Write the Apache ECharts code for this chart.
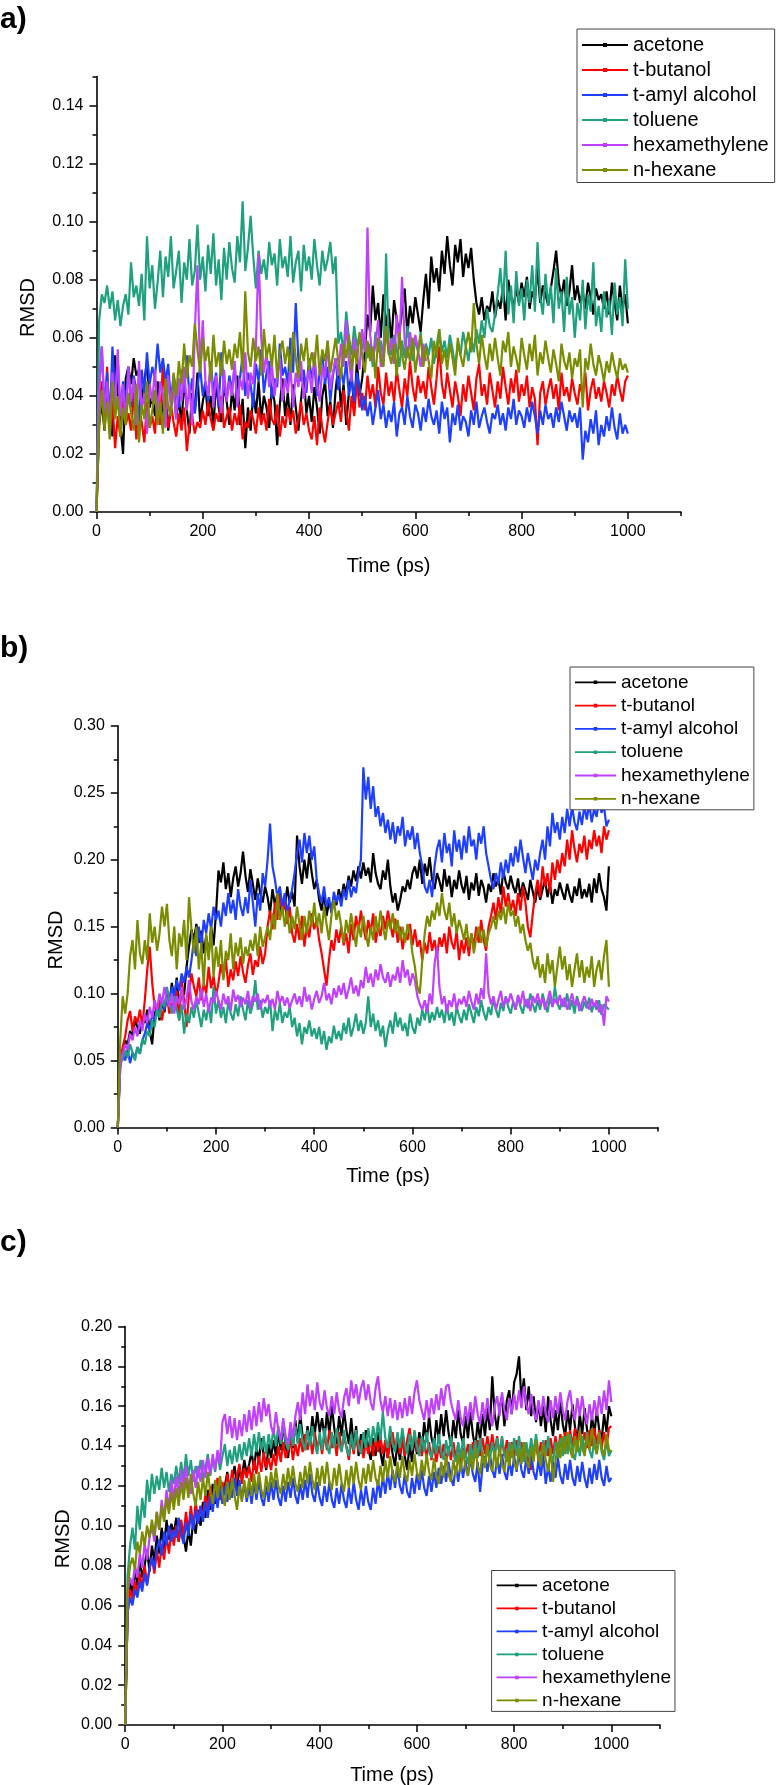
<!DOCTYPE html>
<html><head><meta charset="utf-8">
<script src="https://cdn.jsdelivr.net/npm/echarts@6/dist/echarts.min.js"></script>
<style>html,body{margin:0;padding:0;background:#fff}#c{width:776px;height:1785px}</style>
</head><body><div id="c"></div>
<script>
const names = ['acetone','t-butanol','t-amyl alcohol','toluene','hexamethylene','n-hexane'];
const colors = ['#000000','#ff0000','#1f3fff','#1fa07e','#bf40ff','#7b8c00'];
const times = [0,
5,10,15,20,25,30,35,40,45,50,55,60,65,70,75,80,85,90,95,100,
105,110,115,120,125,130,135,140,145,150,155,160,165,170,175,180,185,190,195,200,
205,210,215,220,225,230,235,240,245,250,255,260,265,270,275,280,285,290,295,300,
305,310,315,320,325,330,335,340,345,350,355,360,365,370,375,380,385,390,395,400,
405,410,415,420,425,430,435,440,445,450,455,460,465,470,475,480,485,490,495,500,
505,510,515,520,525,530,535,540,545,550,555,560,565,570,575,580,585,590,595,600,
605,610,615,620,625,630,635,640,645,650,655,660,665,670,675,680,685,690,695,700,
705,710,715,720,725,730,735,740,745,750,755,760,765,770,775,780,785,790,795,800,
805,810,815,820,825,830,835,840,845,850,855,860,865,870,875,880,885,890,895,900,
905,910,915,920,925,930,935,940,945,950,955,960,965,970,975,980,985,990,995,1000];
const xTicks = [0,200,400,600,800,1000];
const xMinor = [100,300,500,700,900,1100];
const yTicksA = [0,0.02,0.04,0.06,0.08,0.10,0.12,0.14];
const yMinorA = [0.01,0.03,0.05,0.07,0.09,0.11,0.13,0.15];
const yTicksB = [0,0.05,0.10,0.15,0.20,0.25,0.30];
const yMinorB = [0.025,0.075,0.125,0.175,0.225,0.275];
const yTicksC = [0,0.02,0.04,0.06,0.08,0.10,0.12,0.14,0.16,0.18,0.20];
const yMinorC = [0.01,0.03,0.05,0.07,0.09,0.11,0.13,0.15,0.17,0.19];

// ---------- panel a ----------
const acetoneA = [0,
0.030,0.038,0.028,0.042,0.035,0.026,0.054,0.040,0.030,0.020,
0.046,0.050,0.044,0.053,0.047,0.049,0.038,0.045,0.052,0.036,
0.040,0.033,0.045,0.030,0.038,0.042,0.028,0.036,0.044,0.032,
0.039,0.030,0.046,0.035,0.027,0.041,0.034,0.048,0.031,0.038,
0.043,0.033,0.040,0.029,0.045,0.036,0.031,0.044,0.038,0.030,
0.042,0.035,0.047,0.030,0.039,0.022,0.036,0.028,0.041,0.034,
0.045,0.032,0.040,0.036,0.029,0.043,0.038,0.023,0.037,0.046,
0.033,0.041,0.030,0.044,0.036,0.028,0.039,0.047,0.034,0.040,
0.031,0.043,0.036,0.027,0.040,0.045,0.033,0.038,0.029,0.042,
0.050,0.036,0.044,0.030,0.041,0.048,0.035,0.052,0.040,0.046,
0.055,0.068,0.062,0.078,0.066,0.072,0.060,0.075,0.064,0.070,
0.058,0.073,0.066,0.062,0.069,0.077,0.061,0.071,0.065,0.074,
0.068,0.062,0.073,0.082,0.070,0.088,0.079,0.084,0.076,0.090,
0.082,0.095,0.085,0.078,0.092,0.086,0.094,0.081,0.089,0.084,
0.091,0.080,0.072,0.068,0.074,0.066,0.071,0.069,0.076,0.067,
0.073,0.070,0.078,0.066,0.080,0.074,0.071,0.077,0.072,0.079,
0.074,0.081,0.070,0.076,0.073,0.084,0.072,0.078,0.075,0.071,
0.077,0.083,0.090,0.079,0.074,0.080,0.071,0.076,0.085,0.073,
0.078,0.072,0.076,0.070,0.079,0.074,0.068,0.077,0.073,0.075,
0.070,0.076,0.068,0.079,0.072,0.066,0.078,0.070,0.075,0.065];
const tbutanolA = [0,
0.032,0.045,0.030,0.050,0.027,0.038,0.022,0.033,0.026,0.040,
0.030,0.034,0.028,0.042,0.025,0.036,0.031,0.024,0.038,0.029,
0.033,0.027,0.040,0.030,0.052,0.035,0.029,0.037,0.031,0.026,
0.034,0.028,0.036,0.021,0.030,0.033,0.027,0.031,0.029,0.035,
0.030,0.038,0.032,0.028,0.034,0.031,0.040,0.029,0.033,0.036,
0.028,0.034,0.030,0.037,0.025,0.031,0.029,0.035,0.032,0.027,
0.036,0.030,0.034,0.028,0.039,0.032,0.030,0.037,0.026,0.033,
0.029,0.036,0.031,0.035,0.027,0.032,0.038,0.030,0.034,0.028,
0.025,0.033,0.023,0.036,0.029,0.024,0.031,0.037,0.030,0.034,
0.038,0.031,0.042,0.035,0.028,0.040,0.033,0.045,0.036,0.041,
0.035,0.047,0.039,0.044,0.036,0.050,0.041,0.037,0.048,0.040,
0.045,0.038,0.049,0.042,0.036,0.046,0.040,0.052,0.043,0.038,
0.047,0.041,0.045,0.039,0.050,0.043,0.037,0.046,0.057,0.044,
0.039,0.048,0.042,0.036,0.045,0.040,0.033,0.044,0.038,0.047,
0.041,0.035,0.046,0.051,0.040,0.044,0.037,0.048,0.042,0.036,
0.045,0.039,0.050,0.043,0.037,0.046,0.041,0.049,0.038,0.044,
0.040,0.047,0.036,0.043,0.039,0.023,0.041,0.045,0.037,0.042,
0.046,0.039,0.044,0.035,0.048,0.040,0.043,0.038,0.046,0.041,
0.037,0.044,0.040,0.048,0.035,0.042,0.046,0.039,0.043,0.038,
0.045,0.041,0.036,0.044,0.040,0.047,0.042,0.038,0.045,0.047];
const tamylA = [0,
0.043,0.057,0.035,0.048,0.031,0.057,0.040,0.052,0.034,0.045,
0.038,0.050,0.036,0.047,0.042,0.030,0.049,0.041,0.055,0.044,
0.050,0.046,0.058,0.048,0.053,0.045,0.051,0.038,0.047,0.042,
0.036,0.049,0.041,0.054,0.039,0.046,0.034,0.043,0.050,0.040,
0.045,0.038,0.052,0.041,0.048,0.036,0.055,0.043,0.039,0.047,
0.042,0.050,0.038,0.046,0.054,0.040,0.048,0.044,0.036,0.051,
0.045,0.056,0.041,0.048,0.052,0.039,0.046,0.043,0.058,0.047,
0.050,0.044,0.060,0.048,0.072,0.052,0.045,0.049,0.041,0.053,
0.046,0.051,0.040,0.048,0.055,0.044,0.050,0.038,0.047,0.053,
0.042,0.049,0.044,0.052,0.040,0.046,0.038,0.048,0.043,0.035,
0.040,0.033,0.038,0.030,0.036,0.042,0.032,0.037,0.029,0.035,
0.031,0.038,0.026,0.034,0.036,0.030,0.040,0.033,0.029,0.037,
0.034,0.028,0.036,0.031,0.039,0.033,0.030,0.035,0.027,0.038,
0.032,0.036,0.024,0.034,0.030,0.037,0.028,0.033,0.031,0.026,
0.035,0.030,0.038,0.029,0.033,0.036,0.031,0.027,0.034,0.032,
0.037,0.030,0.034,0.028,0.036,0.032,0.039,0.030,0.035,0.033,
0.029,0.036,0.031,0.038,0.033,0.027,0.035,0.030,0.037,0.032,
0.034,0.029,0.036,0.031,0.038,0.033,0.028,0.035,0.031,0.034,
0.029,0.036,0.018,0.028,0.024,0.032,0.027,0.035,0.023,0.030,
0.026,0.033,0.028,0.036,0.029,0.025,0.034,0.027,0.030,0.027];
const tolueneA = [0,
0.066,0.075,0.072,0.078,0.070,0.076,0.066,0.073,0.064,0.071,
0.075,0.068,0.086,0.074,0.078,0.071,0.082,0.066,0.095,0.077,
0.085,0.070,0.079,0.090,0.074,0.088,0.081,0.095,0.077,0.083,
0.090,0.072,0.086,0.080,0.094,0.078,0.083,0.099,0.080,0.088,
0.076,0.092,0.082,0.096,0.078,0.087,0.073,0.091,0.080,0.093,
0.084,0.079,0.095,0.086,0.107,0.083,0.091,0.102,0.088,0.077,
0.090,0.082,0.087,0.080,0.093,0.085,0.089,0.078,0.094,0.084,
0.088,0.081,0.095,0.079,0.086,0.090,0.076,0.092,0.083,0.088,
0.080,0.094,0.085,0.078,0.090,0.083,0.087,0.093,0.082,0.088,
0.058,0.062,0.055,0.069,0.060,0.054,0.064,0.057,0.061,0.056,
0.060,0.053,0.058,0.050,0.062,0.055,0.059,0.052,0.089,0.057,
0.054,0.061,0.056,0.050,0.059,0.053,0.064,0.057,0.052,0.060,
0.055,0.062,0.052,0.058,0.054,0.060,0.051,0.057,0.063,0.055,
0.059,0.053,0.061,0.056,0.050,0.058,0.054,0.062,0.057,0.052,
0.060,0.055,0.063,0.058,0.066,0.060,0.070,0.064,0.062,0.068,
0.075,0.084,0.072,0.090,0.068,0.078,0.065,0.083,0.071,0.077,
0.066,0.080,0.072,0.085,0.069,0.093,0.074,0.068,0.082,0.071,
0.078,0.065,0.084,0.070,0.076,0.062,0.081,0.068,0.074,0.060,
0.072,0.066,0.080,0.063,0.075,0.069,0.086,0.064,0.071,0.062,
0.076,0.067,0.073,0.061,0.079,0.068,0.074,0.064,0.087,0.070];
const hexaA = [0,
0.042,0.057,0.034,0.045,0.030,0.048,0.036,0.056,0.033,0.044,
0.031,0.050,0.038,0.046,0.030,0.052,0.035,0.041,0.027,0.044,
0.038,0.049,0.033,0.045,0.040,0.029,0.047,0.036,0.043,0.032,
0.046,0.038,0.050,0.035,0.044,0.030,0.062,0.085,0.048,0.066,
0.045,0.040,0.052,0.036,0.047,0.041,0.034,0.049,0.038,0.045,
0.040,0.052,0.036,0.046,0.042,0.055,0.039,0.048,0.044,0.057,
0.089,0.060,0.048,0.055,0.043,0.051,0.040,0.047,0.053,0.038,
0.046,0.041,0.050,0.036,0.048,0.043,0.052,0.039,0.045,0.049,
0.041,0.055,0.044,0.038,0.050,0.046,0.059,0.042,0.048,0.053,
0.047,0.058,0.050,0.066,0.052,0.045,0.060,0.054,0.049,0.063,
0.055,0.098,0.061,0.052,0.058,0.066,0.050,0.057,0.063,0.054,
0.060,0.051,0.068,0.056,0.081,0.059,0.053,0.062,0.055,0.061,
0.056,0.050,0.058,0.052];
const hexaneA = [0,
0.030,0.042,0.028,0.038,0.025,0.045,0.032,0.040,0.026,0.036,
0.030,0.041,0.034,0.028,0.044,0.024,0.037,0.032,0.045,0.029,
0.035,0.042,0.030,0.038,0.027,0.046,0.036,0.033,0.048,0.040,
0.052,0.044,0.058,0.046,0.054,0.050,0.065,0.056,0.048,0.060,
0.052,0.057,0.045,0.061,0.050,0.055,0.047,0.059,0.051,0.056,
0.049,0.058,0.053,0.062,0.048,0.076,0.055,0.050,0.060,0.052,
0.057,0.047,0.063,0.053,0.058,0.050,0.061,0.046,0.055,0.059,
0.051,0.057,0.048,0.062,0.053,0.046,0.058,0.052,0.060,0.049,
0.055,0.050,0.061,0.047,0.056,0.052,0.059,0.048,0.054,0.060,
0.052,0.046,0.058,0.053,0.061,0.049,0.056,0.051,0.062,0.054,
0.048,0.059,0.052,0.057,0.046,0.060,0.053,0.050,0.064,0.055,
0.051,0.058,0.047,0.062,0.054,0.049,0.057,0.052,0.060,0.048,
0.055,0.061,0.050,0.057,0.052,0.046,0.059,0.053,0.063,0.051,
0.056,0.049,0.058,0.053,0.047,0.060,0.054,0.050,0.057,0.062,
0.055,0.072,0.058,0.051,0.061,0.054,0.049,0.058,0.052,0.060,
0.053,0.047,0.059,0.055,0.062,0.050,0.057,0.053,0.048,0.060,
0.054,0.049,0.058,0.052,0.061,0.047,0.055,0.051,0.059,0.053,
0.048,0.056,0.051,0.045,0.058,0.052,0.049,0.055,0.046,0.053,
0.050,0.056,0.036,0.053,0.049,0.058,0.051,0.047,0.054,0.050,
0.045,0.052,0.048,0.055,0.050,0.046,0.053,0.049,0.051,0.048];

// ---------- panel b ----------
const acetoneB = [0,
0.052,0.058,0.065,0.062,0.072,0.068,0.080,0.075,0.070,0.082,
0.078,0.088,0.072,0.062,0.085,0.090,0.080,0.095,0.086,0.100,
0.092,0.108,0.096,0.112,0.088,0.104,0.099,0.120,0.135,0.148,
0.140,0.152,0.138,0.147,0.130,0.143,0.128,0.150,0.136,0.160,
0.192,0.183,0.198,0.178,0.190,0.172,0.186,0.195,0.180,0.190,
0.206,0.188,0.176,0.193,0.182,0.170,0.186,0.175,0.168,0.180,
0.172,0.160,0.178,0.166,0.175,0.158,0.170,0.163,0.180,0.168,
0.176,0.165,0.218,0.195,0.182,0.200,0.186,0.205,0.190,0.178,
0.185,0.170,0.162,0.175,0.158,0.168,0.163,0.172,0.166,0.178,
0.170,0.182,0.175,0.188,0.180,0.192,0.184,0.195,0.186,0.198,
0.188,0.194,0.183,0.205,0.190,0.182,0.178,0.192,0.185,0.200,
0.180,0.168,0.175,0.162,0.170,0.180,0.176,0.185,0.178,0.190,
0.195,0.186,0.200,0.182,0.197,0.188,0.202,0.185,0.178,0.190,
0.184,0.176,0.193,0.180,0.188,0.172,0.185,0.178,0.192,0.181,
0.175,0.188,0.170,0.183,0.177,0.190,0.173,0.185,0.179,0.168,
0.182,0.176,0.190,0.180,0.186,0.174,0.192,0.183,0.178,0.188,
0.180,0.175,0.186,0.172,0.183,0.177,0.170,0.185,0.176,0.168,
0.180,0.170,0.178,0.185,0.172,0.182,0.167,0.178,0.173,0.183,
0.176,0.170,0.182,0.174,0.168,0.180,0.173,0.186,0.171,0.178,
0.172,0.182,0.168,0.186,0.175,0.190,0.178,0.172,0.162,0.195];
const tbutanolB = [0,
0.050,0.060,0.068,0.080,0.087,0.072,0.083,0.078,0.088,0.076,
0.095,0.118,0.135,0.108,0.090,0.085,0.095,0.080,0.092,0.098,
0.085,0.093,0.088,0.102,0.080,0.110,0.095,0.075,0.100,0.115,
0.105,0.098,0.112,0.095,0.108,0.100,0.120,0.104,0.113,0.098,
0.108,0.122,0.112,0.126,0.105,0.118,0.110,0.124,0.113,0.128,
0.116,0.108,0.121,0.130,0.114,0.125,0.120,0.135,0.122,0.130,
0.150,0.162,0.148,0.168,0.155,0.175,0.160,0.170,0.152,0.165,
0.145,0.138,0.152,0.140,0.158,0.135,0.150,0.142,0.160,0.148,
0.155,0.140,0.130,0.118,0.106,0.125,0.140,0.132,0.148,0.138,
0.150,0.136,0.145,0.130,0.152,0.140,0.158,0.146,0.162,0.150,
0.140,0.155,0.145,0.160,0.138,0.150,0.143,0.158,0.148,0.162,
0.152,0.142,0.156,0.138,0.150,0.133,0.145,0.140,0.152,0.136,
0.148,0.135,0.140,0.125,0.138,0.130,0.146,0.132,0.140,0.128,
0.142,0.135,0.145,0.130,0.150,0.138,0.133,0.147,0.125,0.140,
0.130,0.142,0.128,0.145,0.135,0.150,0.138,0.155,0.140,0.132,
0.150,0.158,0.168,0.155,0.172,0.160,0.180,0.165,0.175,0.162,
0.170,0.158,0.175,0.162,0.180,0.168,0.150,0.142,0.160,0.175,
0.185,0.172,0.195,0.180,0.190,0.175,0.198,0.185,0.200,0.190,
0.205,0.195,0.215,0.200,0.222,0.208,0.198,0.212,0.205,0.218,
0.200,0.215,0.208,0.222,0.210,0.218,0.205,0.225,0.215,0.222];
const tamylB = [0,
0.045,0.055,0.050,0.058,0.048,0.056,0.052,0.060,0.055,0.065,
0.070,0.078,0.072,0.085,0.080,0.090,0.084,0.095,0.088,0.098,
0.092,0.105,0.098,0.110,0.102,0.115,0.108,0.120,0.112,0.125,
0.140,0.128,0.150,0.135,0.155,0.145,0.160,0.148,0.165,0.155,
0.162,0.150,0.168,0.158,0.175,0.160,0.170,0.155,0.178,0.165,
0.158,0.172,0.160,0.185,0.168,0.150,0.175,0.162,0.190,0.180,
0.200,0.227,0.195,0.185,0.172,0.180,0.165,0.175,0.160,0.170,
0.178,0.190,0.205,0.215,0.198,0.220,0.205,0.218,0.200,0.210,
0.185,0.175,0.168,0.180,0.165,0.172,0.160,0.176,0.168,0.174,
0.165,0.178,0.170,0.185,0.172,0.180,0.175,0.190,0.200,0.269,
0.245,0.262,0.238,0.255,0.232,0.240,0.225,0.235,0.220,0.230,
0.215,0.228,0.212,0.225,0.218,0.232,0.210,0.222,0.215,0.225,
0.208,0.220,0.205,0.195,0.180,0.175,0.185,0.172,0.195,0.208,
0.215,0.198,0.220,0.205,0.212,0.195,0.222,0.206,0.215,0.200,
0.218,0.205,0.225,0.210,0.215,0.200,0.220,0.212,0.225,0.205,
0.195,0.185,0.178,0.190,0.182,0.198,0.186,0.200,0.190,0.205,
0.195,0.210,0.198,0.215,0.202,0.190,0.205,0.195,0.185,0.200,
0.192,0.205,0.215,0.200,0.225,0.210,0.235,0.220,0.228,0.215,
0.232,0.220,0.238,0.225,0.240,0.228,0.222,0.236,0.226,0.240,
0.230,0.242,0.228,0.238,0.232,0.245,0.235,0.240,0.225,0.230];
const tolueneB = [0,
0.055,0.050,0.058,0.052,0.062,0.056,0.050,0.060,0.055,0.066,
0.062,0.072,0.068,0.080,0.075,0.088,0.082,0.095,0.090,0.105,
0.095,0.085,0.098,0.088,0.080,0.092,0.070,0.085,0.078,0.090,
0.082,0.095,0.085,0.075,0.088,0.080,0.092,0.078,0.105,0.085,
0.095,0.082,0.090,0.078,0.094,0.085,0.080,0.092,0.083,0.098,
0.088,0.080,0.095,0.085,0.092,0.110,0.088,0.095,0.082,0.090,
0.085,0.095,0.072,0.088,0.080,0.093,0.078,0.086,0.082,0.090,
0.075,0.082,0.068,0.078,0.062,0.075,0.070,0.080,0.068,0.074,
0.066,0.075,0.062,0.072,0.058,0.068,0.063,0.076,0.066,0.072,
0.065,0.078,0.070,0.082,0.068,0.075,0.085,0.072,0.080,0.070,
0.078,0.098,0.075,0.085,0.072,0.080,0.068,0.076,0.060,0.072,
0.080,0.070,0.086,0.075,0.082,0.072,0.078,0.068,0.085,0.075,
0.070,0.082,0.076,0.088,0.080,0.092,0.078,0.086,0.080,0.090,
0.082,0.088,0.078,0.092,0.080,0.086,0.076,0.090,0.083,0.078,
0.088,0.080,0.092,0.085,0.078,0.090,0.083,0.095,0.086,0.080,
0.090,0.084,0.096,0.088,0.082,0.093,0.087,0.098,0.090,0.085,
0.094,0.088,0.098,0.090,0.085,0.096,0.089,0.100,0.092,0.086,
0.095,0.088,0.100,0.092,0.086,0.097,0.090,0.105,0.093,0.088,
0.096,0.090,0.100,0.088,0.095,0.085,0.098,0.091,0.087,0.094,
0.089,0.097,0.086,0.093,0.088,0.095,0.084,0.092,0.090,0.088];
const hexaB = [0,
0.045,0.055,0.062,0.058,0.070,0.065,0.075,0.068,0.080,0.072,
0.085,0.078,0.090,0.082,0.095,0.088,0.100,0.092,0.105,0.095,
0.090,0.100,0.085,0.098,0.092,0.105,0.088,0.096,0.110,0.094,
0.088,0.098,0.092,0.104,0.090,0.100,0.086,0.097,0.093,0.102,
0.095,0.088,0.100,0.092,0.098,0.087,0.103,0.094,0.099,0.090,
0.097,0.092,0.102,0.089,0.098,0.094,0.100,0.088,0.096,0.093,
0.099,0.090,0.096,0.088,0.102,0.093,0.098,0.091,0.097,0.089,
0.095,0.100,0.092,0.098,0.090,0.105,0.094,0.099,0.088,0.096,
0.102,0.093,0.098,0.108,0.095,0.100,0.092,0.104,0.097,0.106,
0.099,0.108,0.096,0.103,0.112,0.100,0.106,0.098,0.110,0.104,
0.120,0.108,0.115,0.105,0.118,0.110,0.122,0.112,0.108,0.116,
0.105,0.114,0.110,0.120,0.108,0.125,0.112,0.118,0.106,0.115,
0.110,0.098,0.092,0.088,0.095,0.086,0.100,0.092,0.122,0.135,
0.105,0.092,0.098,0.086,0.095,0.090,0.100,0.088,0.096,0.092,
0.098,0.090,0.102,0.094,0.088,0.100,0.092,0.104,0.096,0.130,
0.100,0.092,0.098,0.088,0.095,0.102,0.090,0.097,0.093,0.100,
0.094,0.088,0.099,0.092,0.102,0.090,0.096,0.087,0.098,0.093,
0.100,0.091,0.097,0.088,0.095,0.102,0.090,0.096,0.092,0.099,
0.090,0.097,0.088,0.094,0.100,0.091,0.096,0.087,0.093,0.098,
0.092,0.088,0.096,0.090,0.095,0.086,0.092,0.076,0.098,0.094];
const hexaneB = [0,
0.065,0.098,0.085,0.100,0.128,0.140,0.118,0.155,0.130,0.122,
0.140,0.125,0.160,0.138,0.150,0.132,0.145,0.165,0.150,0.167,
0.140,0.128,0.150,0.118,0.145,0.135,0.155,0.125,0.172,0.148,
0.130,0.150,0.118,0.138,0.105,0.145,0.125,0.150,0.112,0.135,
0.120,0.140,0.110,0.132,0.125,0.145,0.118,0.138,0.128,0.142,
0.122,0.135,0.128,0.140,0.132,0.145,0.128,0.150,0.135,0.142,
0.150,0.140,0.160,0.148,0.175,0.155,0.165,0.150,0.162,0.145,
0.158,0.148,0.165,0.152,0.140,0.158,0.145,0.162,0.150,0.168,
0.150,0.160,0.145,0.165,0.152,0.140,0.158,0.170,0.155,0.162,
0.150,0.138,0.155,0.145,0.160,0.148,0.135,0.152,0.142,0.158,
0.145,0.135,0.150,0.140,0.158,0.145,0.162,0.150,0.140,0.155,
0.148,0.160,0.145,0.155,0.140,0.150,0.138,0.152,0.145,0.130,
0.120,0.105,0.100,0.125,0.145,0.158,0.150,0.162,0.155,0.168,
0.158,0.175,0.162,0.155,0.168,0.150,0.160,0.145,0.155,0.148,
0.140,0.152,0.135,0.145,0.130,0.142,0.150,0.138,0.148,0.135,
0.145,0.150,0.158,0.148,0.162,0.155,0.165,0.152,0.168,0.158,
0.162,0.150,0.158,0.145,0.152,0.140,0.132,0.138,0.125,0.118,
0.128,0.112,0.122,0.108,0.130,0.115,0.125,0.105,0.120,0.135,
0.118,0.128,0.110,0.122,0.105,0.118,0.130,0.112,0.125,0.108,
0.120,0.112,0.128,0.105,0.118,0.125,0.110,0.128,0.140,0.105];

// ---------- panel c ----------
const acetoneC = [0,
0.058,0.072,0.066,0.078,0.070,0.083,0.074,0.080,0.088,0.077,
0.090,0.082,0.095,0.086,0.099,0.088,0.103,0.093,0.101,0.096,
0.104,0.092,0.100,0.095,0.087,0.098,0.090,0.103,0.096,0.108,
0.100,0.112,0.104,0.118,0.108,0.121,0.111,0.116,0.123,0.114,
0.120,0.127,0.116,0.124,0.130,0.119,0.128,0.124,0.133,0.126,
0.131,0.137,0.128,0.140,0.132,0.144,0.135,0.128,0.141,0.134,
0.143,0.135,0.147,0.138,0.151,0.140,0.134,0.148,0.139,0.153,
0.142,0.156,0.145,0.138,0.150,0.141,0.155,0.146,0.157,0.147,
0.154,0.144,0.157,0.146,0.160,0.149,0.141,0.155,0.145,0.158,
0.148,0.141,0.154,0.139,0.150,0.135,0.146,0.137,0.148,0.139,
0.133,0.144,0.135,0.147,0.137,0.130,0.143,0.134,0.146,0.136,
0.130,0.142,0.133,0.145,0.135,0.128,0.141,0.132,0.144,0.136,
0.147,0.138,0.152,0.142,0.155,0.144,0.139,0.153,0.143,0.156,
0.145,0.158,0.147,0.140,0.153,0.144,0.158,0.146,0.141,0.155,
0.144,0.157,0.146,0.139,0.152,0.143,0.156,0.145,0.159,0.148,
0.175,0.156,0.148,0.159,0.165,0.150,0.163,0.168,0.156,0.172,
0.176,0.185,0.163,0.174,0.158,0.170,0.155,0.165,0.152,0.162,
0.150,0.160,0.147,0.165,0.153,0.145,0.158,0.148,0.163,0.151,
0.145,0.158,0.148,0.161,0.150,0.142,0.156,0.146,0.159,0.148,
0.142,0.155,0.146,0.158,0.148,0.143,0.156,0.147,0.160,0.155];
const tbutanolC = [0,
0.058,0.068,0.063,0.072,0.066,0.076,0.069,0.080,0.071,0.078,
0.084,0.076,0.088,0.079,0.091,0.083,0.095,0.086,0.098,0.090,
0.100,0.092,0.103,0.095,0.107,0.097,0.110,0.100,0.112,0.103,
0.110,0.104,0.116,0.108,0.120,0.111,0.118,0.124,0.113,0.122,
0.116,0.126,0.118,0.128,0.119,0.125,0.131,0.121,0.129,0.124,
0.130,0.122,0.133,0.126,0.135,0.127,0.137,0.129,0.134,0.128,
0.136,0.130,0.140,0.132,0.142,0.134,0.138,0.143,0.133,0.141,
0.135,0.144,0.137,0.146,0.138,0.145,0.136,0.147,0.139,0.144,
0.136,0.146,0.138,0.148,0.139,0.145,0.135,0.147,0.138,0.144,
0.140,0.133,0.144,0.136,0.146,0.137,0.143,0.134,0.142,0.136,
0.144,0.135,0.146,0.137,0.145,0.136,0.143,0.134,0.141,0.147,
0.138,0.146,0.136,0.144,0.135,0.143,0.149,0.139,0.146,0.137,
0.144,0.135,0.143,0.134,0.142,0.133,0.141,0.132,0.140,0.134,
0.141,0.132,0.140,0.133,0.142,0.134,0.141,0.132,0.139,0.134,
0.141,0.133,0.142,0.134,0.143,0.135,0.144,0.136,0.145,0.137,
0.146,0.137,0.145,0.136,0.144,0.135,0.143,0.134,0.142,0.135,
0.143,0.134,0.142,0.133,0.141,0.132,0.128,0.137,0.141,0.133,
0.142,0.134,0.143,0.135,0.144,0.136,0.145,0.137,0.146,0.138,
0.147,0.139,0.148,0.140,0.149,0.141,0.148,0.140,0.147,0.139,
0.148,0.140,0.149,0.141,0.148,0.139,0.147,0.140,0.149,0.150];
const tamylC = [0,
0.056,0.064,0.060,0.068,0.064,0.072,0.067,0.076,0.070,0.079,
0.084,0.078,0.088,0.093,0.085,0.097,0.090,0.100,0.092,0.098,
0.094,0.104,0.096,0.091,0.102,0.095,0.106,0.098,0.108,0.101,
0.110,0.102,0.112,0.104,0.115,0.107,0.117,0.109,0.119,0.111,
0.120,0.112,0.122,0.114,0.124,0.115,0.123,0.113,0.121,0.112,
0.120,0.111,0.122,0.113,0.123,0.114,0.110,0.120,0.112,0.122,
0.113,0.123,0.114,0.110,0.120,0.112,0.122,0.114,0.124,0.115,
0.111,0.121,0.113,0.123,0.114,0.126,0.116,0.112,0.122,0.114,
0.110,0.120,0.112,0.122,0.113,0.109,0.119,0.111,0.121,0.113,
0.109,0.119,0.111,0.122,0.113,0.108,0.118,0.110,0.120,0.112,
0.108,0.119,0.111,0.123,0.114,0.125,0.116,0.127,0.118,0.128,
0.119,0.129,0.120,0.116,0.126,0.117,0.114,0.124,0.116,0.126,
0.118,0.128,0.119,0.115,0.125,0.117,0.127,0.119,0.129,0.121,
0.130,0.122,0.132,0.124,0.120,0.130,0.122,0.132,0.124,0.133,
0.125,0.134,0.126,0.122,0.132,0.117,0.130,0.135,0.127,0.136,
0.128,0.124,0.134,0.126,0.136,0.127,0.123,0.133,0.125,0.135,
0.127,0.137,0.128,0.124,0.134,0.126,0.136,0.127,0.123,0.133,
0.125,0.135,0.121,0.130,0.122,0.132,0.124,0.134,0.125,0.121,
0.131,0.123,0.133,0.124,0.120,0.130,0.122,0.132,0.124,0.119,
0.129,0.121,0.131,0.123,0.133,0.124,0.120,0.130,0.122,0.124];
const tolueneC = [0,
0.075,0.090,0.099,0.088,0.110,0.098,0.114,0.104,0.123,0.112,
0.126,0.116,0.125,0.118,0.129,0.119,0.127,0.117,0.126,0.121,
0.130,0.121,0.132,0.123,0.136,0.125,0.133,0.122,0.130,0.124,
0.133,0.123,0.129,0.136,0.125,0.134,0.127,0.137,0.128,0.135,
0.141,0.130,0.138,0.131,0.140,0.132,0.141,0.133,0.142,0.135,
0.144,0.135,0.146,0.137,0.147,0.138,0.145,0.136,0.146,0.139,
0.149,0.140,0.150,0.141,0.151,0.142,0.138,0.148,0.140,0.150,
0.141,0.151,0.142,0.138,0.148,0.140,0.150,0.141,0.136,0.147,
0.138,0.149,0.140,0.136,0.147,0.139,0.149,0.141,0.137,0.148,
0.139,0.135,0.146,0.138,0.148,0.140,0.136,0.147,0.139,0.149,
0.140,0.150,0.142,0.152,0.143,0.157,0.144,0.139,0.150,0.141,
0.137,0.147,0.139,0.149,0.141,0.136,0.146,0.138,0.148,0.140,
0.135,0.145,0.137,0.147,0.138,0.134,0.144,0.136,0.146,0.137,
0.133,0.143,0.135,0.145,0.136,0.132,0.142,0.134,0.144,0.136,
0.131,0.141,0.133,0.143,0.134,0.144,0.135,0.131,0.141,0.133,
0.142,0.134,0.144,0.135,0.145,0.136,0.132,0.142,0.134,0.144,
0.135,0.145,0.136,0.132,0.142,0.134,0.144,0.136,0.146,0.137,
0.133,0.143,0.135,0.145,0.136,0.132,0.142,0.134,0.144,0.135,
0.145,0.136,0.146,0.137,0.133,0.143,0.135,0.145,0.137,0.147,
0.138,0.134,0.144,0.136,0.146,0.137,0.133,0.143,0.135,0.138];
const hexaC = [0,
0.066,0.074,0.070,0.080,0.074,0.086,0.079,0.091,0.083,0.094,
0.100,0.092,0.107,0.098,0.113,0.103,0.118,0.108,0.123,0.113,
0.125,0.115,0.128,0.118,0.130,0.120,0.116,0.128,0.119,0.130,
0.122,0.133,0.124,0.134,0.126,0.136,0.128,0.138,0.131,0.152,
0.156,0.146,0.155,0.144,0.154,0.143,0.153,0.145,0.156,0.147,
0.158,0.148,0.160,0.150,0.162,0.152,0.164,0.155,0.161,0.150,
0.146,0.157,0.148,0.143,0.154,0.145,0.141,0.152,0.144,0.155,
0.162,0.153,0.167,0.156,0.171,0.160,0.168,0.158,0.172,0.162,
0.158,0.168,0.159,0.155,0.165,0.156,0.167,0.158,0.154,0.164,
0.169,0.160,0.173,0.164,0.171,0.161,0.169,0.173,0.163,0.171,
0.162,0.158,0.169,0.175,0.163,0.157,0.165,0.155,0.164,0.154,
0.163,0.153,0.162,0.154,0.164,0.155,0.165,0.156,0.167,0.173,
0.163,0.158,0.153,0.163,0.154,0.164,0.156,0.166,0.158,0.169,
0.160,0.170,0.171,0.162,0.157,0.153,0.163,0.154,0.150,0.160,
0.152,0.162,0.153,0.165,0.156,0.151,0.162,0.153,0.164,0.155,
0.150,0.160,0.165,0.155,0.167,0.158,0.153,0.164,0.156,0.166,
0.158,0.168,0.159,0.170,0.161,0.156,0.166,0.157,0.153,0.163,
0.155,0.165,0.156,0.152,0.163,0.154,0.165,0.156,0.167,0.158,
0.153,0.163,0.168,0.158,0.153,0.164,0.155,0.165,0.156,0.151,
0.161,0.153,0.163,0.155,0.165,0.156,0.168,0.158,0.173,0.162];
const hexaneC = [0,
0.068,0.080,0.084,0.078,0.092,0.086,0.097,0.090,0.100,0.094,
0.103,0.095,0.107,0.098,0.110,0.102,0.114,0.106,0.117,0.108,
0.119,0.110,0.122,0.113,0.124,0.114,0.126,0.116,0.110,0.122,
0.113,0.124,0.115,0.127,0.117,0.111,0.123,0.114,0.125,0.116,
0.110,0.122,0.113,0.124,0.115,0.108,0.120,0.112,0.123,0.114,
0.124,0.115,0.126,0.116,0.127,0.118,0.114,0.125,0.117,0.127,
0.119,0.129,0.120,0.116,0.126,0.118,0.129,0.120,0.130,0.121,
0.117,0.127,0.119,0.130,0.121,0.132,0.123,0.118,0.129,0.120,
0.130,0.121,0.132,0.122,0.118,0.129,0.120,0.131,0.122,0.117,
0.128,0.119,0.130,0.121,0.132,0.123,0.118,0.129,0.121,0.131,
0.122,0.133,0.124,0.120,0.130,0.122,0.133,0.124,0.135,0.126,
0.122,0.132,0.124,0.135,0.126,0.122,0.133,0.125,0.136,0.127,
0.123,0.133,0.125,0.136,0.127,0.123,0.134,0.125,0.121,0.132,
0.124,0.135,0.126,0.122,0.133,0.125,0.136,0.127,0.138,0.129,
0.125,0.136,0.128,0.139,0.130,0.126,0.137,0.129,0.140,0.131,
0.127,0.138,0.129,0.140,0.131,0.127,0.138,0.130,0.141,0.132,
0.128,0.139,0.131,0.142,0.133,0.129,0.140,0.132,0.143,0.134,
0.130,0.141,0.133,0.127,0.139,0.122,0.132,0.142,0.134,0.145,
0.136,0.147,0.138,0.134,0.145,0.137,0.148,0.139,0.135,0.146,
0.138,0.149,0.140,0.136,0.147,0.139,0.135,0.146,0.138,0.137];

const FONT = '"Liberation Sans", Arial, sans-serif';
const ICON = 'path://M0,1L46,1L46,3L0,3Z M21,0L25,0L25,4L21,4Z';

const panels = [
  { grid:{left:96.5, top:76.5, width:584.5, height:435.5}, ymax:0.15, yTicks:yTicksA, yMinor:yMinorA,
    series:[acetoneA,tbutanolA,tamylA,tolueneA,hexaA,hexaneA],
    legend:{left:577, top:29, padding:[6,6,2.5,5], itemWidth:46, itemGap:5, fontSize:20} },
  { grid:{left:117.8, top:725.9, width:540.2, height:401.5}, ymax:0.30, yTicks:yTicksB, yMinor:yMinorB,
    series:[acetoneB,tbutanolB,tamylB,tolueneB,hexaB,hexaneB],
    legend:{left:570, top:667, padding:[5.8,4,1.5,5], itemWidth:41, itemGap:4.3, fontSize:19} },
  { grid:{left:125.2, top:1326.5, width:534.8, height:398.5}, ymax:0.20, yTicks:yTicksC, yMinor:yMinorC,
    series:[acetoneC,tbutanolC,tamylC,tolueneC,hexaC,hexaneC],
    legend:{left:491.6, top:1570.5, padding:[5.4,4,1.5,5], itemWidth:40.5, itemGap:4, fontSize:19} }
];

const grids = [], xAxes = [], yAxes = [], series = [], legends = [];
const axisLineStyle = {color:'#000', width:1.6};
panels.forEach((p, pi) => {
  grids.push(Object.assign({containLabel:false}, p.grid));
  xAxes.push({type:'value', gridIndex:pi, min:0, max:1100, position:'bottom',
    axisLine:{show:true, onZero:false, lineStyle:axisLineStyle},
    axisTick:{show:true, inside:false, length:7, customValues:xTicks, lineStyle:{color:'#000', width:1.5}},
    axisLabel:{show:true, customValues:xTicks, margin:12, fontSize:16, fontFamily:FONT, color:'#000', formatter:v=>String(v)},
    splitLine:{show:false}});
  xAxes.push({type:'value', gridIndex:pi, min:0, max:1100, position:'bottom',
    axisLine:{show:false, onZero:false},
    axisTick:{show:true, inside:false, length:4, customValues:xMinor, lineStyle:{color:'#000', width:1.5}},
    axisLabel:{show:false}, splitLine:{show:false}});
  yAxes.push({type:'value', gridIndex:pi, min:0, max:p.ymax, position:'left',
    axisLine:{show:true, onZero:false, lineStyle:axisLineStyle},
    axisTick:{show:true, inside:false, length:7, customValues:p.yTicks, lineStyle:{color:'#000', width:1.5}},
    axisLabel:{show:true, customValues:p.yTicks, margin:13, fontSize:16, fontFamily:FONT, color:'#000', formatter:v=>v.toFixed(2)},
    splitLine:{show:false}});
  yAxes.push({type:'value', gridIndex:pi, min:0, max:p.ymax, position:'left',
    axisLine:{show:false, onZero:false},
    axisTick:{show:true, inside:false, length:4, customValues:p.yMinor, lineStyle:{color:'#000', width:1.5}},
    axisLabel:{show:false}, splitLine:{show:false}});
  p.series.forEach((vals, si) => {
    series.push({type:'line', name:names[si], xAxisIndex:pi*2, yAxisIndex:pi*2,
      data: vals.map((v,i)=>[times[i], v]),
      showSymbol:false, symbol:'none', animation:false, silent:true,
      lineStyle:{color:colors[si], width:2.2}, itemStyle:{color:colors[si]}});
  });
  const L = p.legend;
  legends.push({orient:'vertical', left:L.left, top:L.top, padding:L.padding,
    itemWidth:L.itemWidth, itemHeight:4, itemGap:L.itemGap, icon:ICON, selectedMode:false,
    borderColor:'#444', borderWidth:1, backgroundColor:'#fff',
    textStyle:{fontSize:L.fontSize, fontFamily:FONT, color:'#000'}, data:names});
});

function txt(x, y, text, size, opts) {
  return Object.assign({type:'text', x:x, y:y, silent:true,
    style:{text:text, fontSize:size, fontFamily:FONT, fill:'#000', align:'center', verticalAlign:'middle'}}, opts||{});
}
function lab(y, text) {
  return {type:'text', x:0, y:y, silent:true, style:{text:text, fontSize:30, fontWeight:'bold', fontFamily:FONT, fill:'#000', align:'left', verticalAlign:'middle'}};
}
const graphics = [
  lab(19.5, 'a)'), lab(649, 'b)'), lab(1243, 'c)'),
  txt(388.6, 566, 'Time (ps)', 20),
  txt(28.5, 307.5, 'RMSD', 20, {rotation:Math.PI/2}),
  txt(388, 1176, 'Time (ps)', 20),
  txt(56.4, 940, 'RMSD', 20, {rotation:Math.PI/2}),
  txt(392, 1775, 'Time (ps)', 20),
  txt(63, 1538.7, 'RMSD', 20, {rotation:Math.PI/2})
];

const chart = echarts.init(document.getElementById('c'), null, {renderer:'canvas'});
chart.setOption({
  animation:false, backgroundColor:'#fff',
  grid:grids, xAxis:xAxes, yAxis:yAxes, series:series, legend:legends, graphic:graphics
});
</script></body></html>
